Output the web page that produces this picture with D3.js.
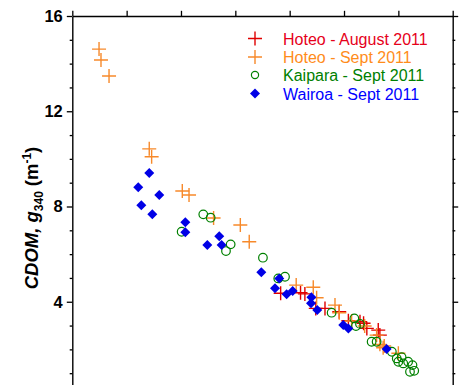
<!DOCTYPE html>
<html><head><meta charset="utf-8">
<script src="https://cdn.jsdelivr.net/npm/d3@7"></script>
<style>
html,body{margin:0;padding:0;background:#fff;}
svg{display:block;font-family:"Liberation Sans",Arial,sans-serif;}
</style></head>
<body><svg id="c" width="468" height="385"></svg>
<script>
// Salinity (x) and CDOM g340 (y) readings per series
const hoteoAugX = [19.17, 21.0, 21.4, 22.4, 23.25, 24.56, 25.4, 26.47, 26.8, 27.1, 28.15, 28.3];
const hoteoAugY = [4.36, 4.38, 4.33, 3.72, 3.72, 3.58, 3.2, 3.16, 3.1, 2.88, 2.81, 2.6];
const hoteoSepX = [2.46, 2.64, 3.38, 7.08, 7.30, 10.12, 10.74, 13.0, 15.46, 16.28, 20.6, 22.17, 22.48, 24.17, 24.56, 25.7, 26.9, 28.0, 28.3, 28.6, 28.7, 30.0];
const hoteoSepY = [14.61, 14.15, 13.48, 10.42, 10.09, 8.65, 8.48, 7.52, 7.22, 6.52, 4.70, 4.61, 4.17, 3.86, 3.54, 3.19, 2.98, 2.60, 2.21, 2.07, 2.14, 1.84];
const kaiparaX = [10.06, 12.05, 12.73, 14.14, 14.57, 17.54, 18.95, 19.57, 23.86, 25.95, 26.1, 26.47, 27.54, 28.0, 29.4, 29.85, 30.3, 30.0, 30.45, 30.9, 31.3, 31.07, 31.46];
const kaiparaY = [6.94, 7.67, 7.53, 6.13, 6.41, 5.85, 4.98, 5.05, 3.54, 3.30, 2.98, 3.07, 2.32, 2.32, 1.90, 1.62, 1.67, 1.48, 1.41, 1.48, 1.34, 1.06, 1.10];
const wairoaX = [6.07, 6.35, 7.08, 7.36, 8.0, 10.4, 10.4, 12.42, 13.52, 13.74, 17.39, 19.04, 18.65, 19.72, 20.28, 22.0, 21.96, 22.54, 24.93, 25.4, 28.92];
const wairoaY = [8.81, 8.05, 9.41, 7.67, 8.48, 7.34, 6.92, 6.38, 6.75, 6.38, 5.24, 4.98, 4.57, 4.31, 4.45, 4.19, 3.94, 3.65, 3.02, 2.88, 2.02];
const seriesNames = ["Hoteo - August 2011", "Hoteo - Sept 2011", "Kaipara - Sept 2011", "Wairoa - Sept 2011"];
const yMajorTicks = [4, 8, 12, 16];
const xTicks = [0, 5, 10, 15, 20, 25, 30, 35];

const svg = d3.select("#c");
const L = 72.3, R = 452.7, T = 16, B = 397;
const x = d3.scaleLinear().domain([0, 35]).range([L, R]);
const y = d3.scaleLinear().domain([0, 16]).range([B, T]);
const colors = ["#e00000", "#f7892a", "#008000", "#0000e6"];
const textColors = ["#e6001a", "#ff8c1a", "#008000", "#0000ff"];

// axes
const axisStyle = g => { g.selectAll("path,line").attr("stroke", "#000").attr("stroke-width", 1.3); g.select(".domain").attr("stroke-width", 1.4); };
const yMinor = d3.range(0, 17, 1).filter(v => v % 4 !== 0);
svg.append("g").attr("transform", `translate(${L},0)`)
  .call(d3.axisLeft(y).tickValues(yMajorTicks).tickSize(5.5).tickSizeOuter(0).tickFormat(d3.format("d")))
  .call(axisStyle)
  .call(g => g.selectAll("text").attr("font-size", 16.5).attr("font-weight", "bold").attr("fill", "#000").attr("x", -9.5).attr("font-family", '"Liberation Sans",Arial,sans-serif'));
svg.append("g").attr("transform", `translate(${L},0)`)
  .call(d3.axisLeft(y).tickValues(yMinor).tickSize(2.6).tickSizeOuter(0).tickFormat(""))
  .call(axisStyle).call(g => g.select(".domain").remove());
svg.append("g").attr("transform", `translate(${R},0)`)
  .call(d3.axisRight(y).tickValues(yMajorTicks).tickSize(5.5).tickSizeOuter(0).tickFormat(""))
  .call(axisStyle);
svg.append("g").attr("transform", `translate(${R},0)`)
  .call(d3.axisRight(y).tickValues(yMinor).tickSize(2.6).tickSizeOuter(0).tickFormat(""))
  .call(axisStyle).call(g => g.select(".domain").remove());
svg.append("g").attr("transform", `translate(0,${T})`)
  .call(d3.axisTop(x).tickValues(xTicks).tickSize(5.2).tickSizeOuter(0).tickFormat(""))
  .call(axisStyle);
svg.append("g").attr("transform", `translate(0,${B})`)
  .call(d3.axisBottom(x).tickValues(xTicks).tickSize(5.2).tickSizeOuter(0).tickFormat(""))
  .call(axisStyle);

// y label
const yl = svg.append("text").attr("transform", "translate(38,218) rotate(-90)")
  .attr("text-anchor", "middle").attr("font-size", 18.5).attr("font-weight", "bold").attr("fill", "#000");
yl.append("tspan").attr("font-style", "italic").text("CDOM, g");
yl.append("tspan").attr("font-size", 12).attr("dy", 4.5).text("340");
yl.append("tspan").attr("dy", -4.5).attr("dx", 5).text("(m");
yl.append("tspan").attr("font-size", 12).attr("dy", -7.5).text("-1");
yl.append("tspan").attr("dy", 7.5).text(")");

// markers
const crossPath = "M-7,0H7M0,-7V7";
const sq = d3.symbol(d3.symbolSquare, 50)();
function drawCross(xs, ys, col) {
  svg.append("g").selectAll("path").data(xs.map((v, i) => [v, ys[i]])).join("path")
    .attr("d", crossPath).attr("transform", d => `translate(${x(d[0])},${y(d[1])})`)
    .attr("stroke", col).attr("stroke-width", 1.4).attr("fill", "none");
}
drawCross(hoteoAugX, hoteoAugY, colors[0]);
drawCross(hoteoSepX, hoteoSepY, colors[1]);
svg.append("g").selectAll("circle").data(kaiparaX.map((v, i) => [v, kaiparaY[i]])).join("circle")
  .attr("cx", d => x(d[0])).attr("cy", d => y(d[1])).attr("r", 4.3)
  .attr("fill", "none").attr("stroke", colors[2]).attr("stroke-width", 1.2);
svg.append("g").selectAll("path").data(wairoaX.map((v, i) => [v, wairoaY[i]])).join("path")
  .attr("d", sq).attr("transform", d => `translate(${x(d[0])},${y(d[1])}) rotate(45)`)
  .attr("fill", colors[3]);

// legend
const lg = svg.append("g");
const rowsY = [38.5, 57, 75, 93.5];
seriesNames.forEach((name, i) => {
  const cy = rowsY[i], mx = 255;
  if (i < 2) lg.append("path").attr("d", crossPath).attr("transform", `translate(${mx},${cy})`).attr("stroke", colors[i]).attr("stroke-width", 1.4);
  else if (i === 2) lg.append("circle").attr("cx", mx).attr("cy", cy).attr("r", 3.6).attr("fill", "none").attr("stroke", colors[2]).attr("stroke-width", 1.2);
  else lg.append("path").attr("d", sq).attr("transform", `translate(${mx},${cy}) rotate(45)`).attr("fill", colors[3]);
  lg.append("text").attr("x", 283).attr("y", cy + 6).attr("font-size", 16).attr("fill", textColors[i]).text(name);
});
</script></body></html>
